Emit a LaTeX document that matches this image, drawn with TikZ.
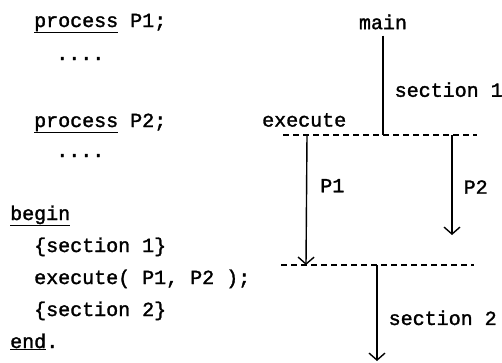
\documentclass[tikz,border=0pt]{standalone}
\usepackage{fontspec}
\setmonofont[RawFeature={embolden=1.6}]{Liberation Mono}
\usetikzlibrary{arrows.meta}
\tikzstyle{codeline} = [anchor=base west, inner sep=0pt, font=\ttfamily\fontsize{20}{20}\selectfont]
\tikzstyle{tag} = [inner sep=0pt, font=\ttfamily\fontsize{20}{20}\selectfont]
\tikzstyle{plainline} = [draw, line width=1.4pt]
\tikzstyle{flow} = [draw, line width=1.4pt, -{Straight Barb[length=7pt, width=16pt]}]
\tikzstyle{sync} = [draw, line width=1.1pt, dash pattern=on 6pt off 4pt]

\begin{document}
\begin{tikzpicture}[x=1pt, y=-1pt]
        \useasboundingbox (0,0) rectangle (502,362);
        % Place nodes
        \node [codeline] (p1) at (34,27) {\underline{process} P1;};
        \node [codeline] (d1) at (56,60) {....};
        \node [codeline] (p2) at (34,127) {\underline{process} P2;};
        \node [codeline] (d2) at (56,157) {....};
        \node [codeline] (bg) at (10,220) {\underline{begin}};
        \node [codeline] (s1) at (34,252) {\{section 1\}};
        \node [codeline] (ex) at (34,284) {execute( P1, P2 );};
        \node [codeline] (s2) at (34,316) {\{section 2\}};
        \node [codeline] (nd) at (10,348) {\underline{end}.};
        \node [tag] (main) at (383,22) {main};
        \node [tag, anchor=west] (exlabel) at (262,120) {execute};
        % Points on the two sync lines
        \coordinate (forkL) at (283,135);
        \coordinate (fork) at (383,135);
        \coordinate (forkR) at (477,135);
        \coordinate (p1top) at (307,135);
        \coordinate (p2top) at (452,135);
        \coordinate (p2end) at (452,235);
        \coordinate (joinL) at (281,265);
        \coordinate (join) at (306,265);
        \coordinate (joinR) at (474,265);
        \coordinate (s2top) at (377,265);
        \coordinate (s2end) at (377,361);
        % Draw edges
        \path [sync] (forkL) -- (forkR);
        \path [sync] (joinL) -- (joinR);
        \path [plainline, shorten <=6pt] (main) -- node [tag, pos=0.57, right=11pt] {section 1} (fork);
        \path [flow] (p1top) -- node [tag, pos=0.39, right=13pt] {P1} (join);
        \path [flow] (p2top) -- node [tag, pos=0.52, right=11pt] {P2} (p2end);
        \path [flow] (s2top) -- node [tag, pos=0.55, right=11pt] {section 2} (s2end);
    \end{tikzpicture}
\end{document}
